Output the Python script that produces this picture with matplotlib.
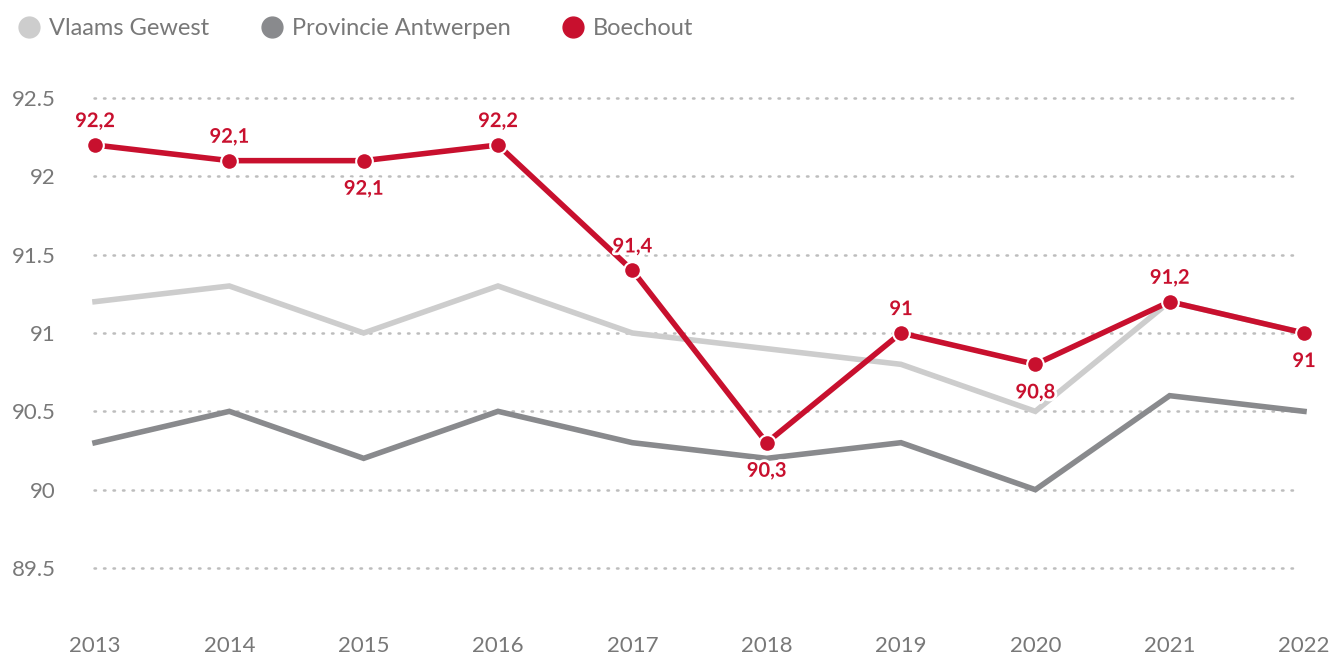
import matplotlib
matplotlib.use("Agg")
import matplotlib.pyplot as plt
import matplotlib.patheffects as pe
from matplotlib.lines import Line2D

years = [2013, 2014, 2015, 2016, 2017, 2018, 2019, 2020, 2021, 2022]
vlaams = [91.2, 91.3, 91.0, 91.3, 91.0, 90.9, 90.8, 90.5, 91.2, 91.0]
provincie = [90.3, 90.5, 90.2, 90.5, 90.3, 90.2, 90.3, 90.0, 90.6, 90.5]
boechout = [92.2, 92.1, 92.1, 92.2, 91.4, 90.3, 91.0, 90.8, 91.2, 91.0]
# label above (True) or below (False) the point
label_above = [True, True, False, True, True, False, True, False, True, False]
y_ticks = [89.5, 90, 90.5, 91, 91.5, 92, 92.5]
series_names = ["Vlaams Gewest", "Provincie Antwerpen", "Boechout"]

RED = "#C8102E"
DARK = "#898A8D"
LIGHT = "#CDCDCD"
TEXT = "#787878"

plt.rcParams["font.family"] = ["Lato", "DejaVu Sans"]

W, H = 1333, 654
fig = plt.figure(figsize=(W / 100, H / 100), dpi=100)
ax = fig.add_axes([95 / W, (H - 600) / H, (1304 - 95) / W, (600 - 70) / H])

ax.set_xlim(2013, 2022)
y0 = 89.5 - 32 / 156.8
y1 = 92.5 + 28 / 156.8
ax.set_ylim(y0, y1)

for t in y_ticks:
    ax.plot([2012.99, 2021.95], [t, t], color="#BDBDBD", lw=1.8,
            ls=(0, (0.6, 3.2)), dash_capstyle="round", zorder=1, clip_on=False)

ax.plot(years, vlaams, color=LIGHT, lw=4, zorder=2, clip_on=False,
        solid_joinstyle="miter")
ax.plot(years, provincie, color=DARK, lw=4, zorder=3, clip_on=False,
        solid_joinstyle="miter")
ax.plot(years, boechout, color=RED, lw=4, zorder=4, clip_on=False,
        marker="o", markersize=12, markeredgecolor="white",
        markeredgewidth=1.5, solid_joinstyle="miter")

halo = [pe.withStroke(linewidth=4, foreground="white")]
for x, v, up in zip(years, boechout, label_above):
    txt = f"{v:g}".replace(".", ",")
    ax.annotate(txt, (x, v), xytext=(0, 10 if up else -13),
                textcoords="offset points", ha="center",
                va="bottom" if up else "top", color=RED, fontsize=14.5,
                fontweight="bold", path_effects=halo, zorder=5,
                annotation_clip=False)

ax.set_xticks(years)
ax.set_xticklabels([str(y) for y in years])
ax.set_yticks(y_ticks)
ax.set_yticklabels([f"{t:g}" for t in y_ticks])
ax.tick_params(axis="x", length=0, pad=26, labelsize=16, labelcolor=TEXT)
ax.tick_params(axis="y", length=0, pad=28, labelsize=16, labelcolor=TEXT)
for s in ax.spines.values():
    s.set_visible(False)

handles = [
    Line2D([], [], ls="none", marker="o", markersize=15, color=c)
    for c in (LIGHT, DARK, RED)
]
leg = fig.legend(handles, series_names,
                 loc="upper left", bbox_to_anchor=(-0.003, 1.005), ncol=3,
                 frameon=False, handletextpad=0.35,
                 columnspacing=2.15, handlelength=1.0,
                 prop={"size": 17})
for t in leg.get_texts():
    t.set_color(TEXT)

fig.savefig("out.png", dpi=100)
